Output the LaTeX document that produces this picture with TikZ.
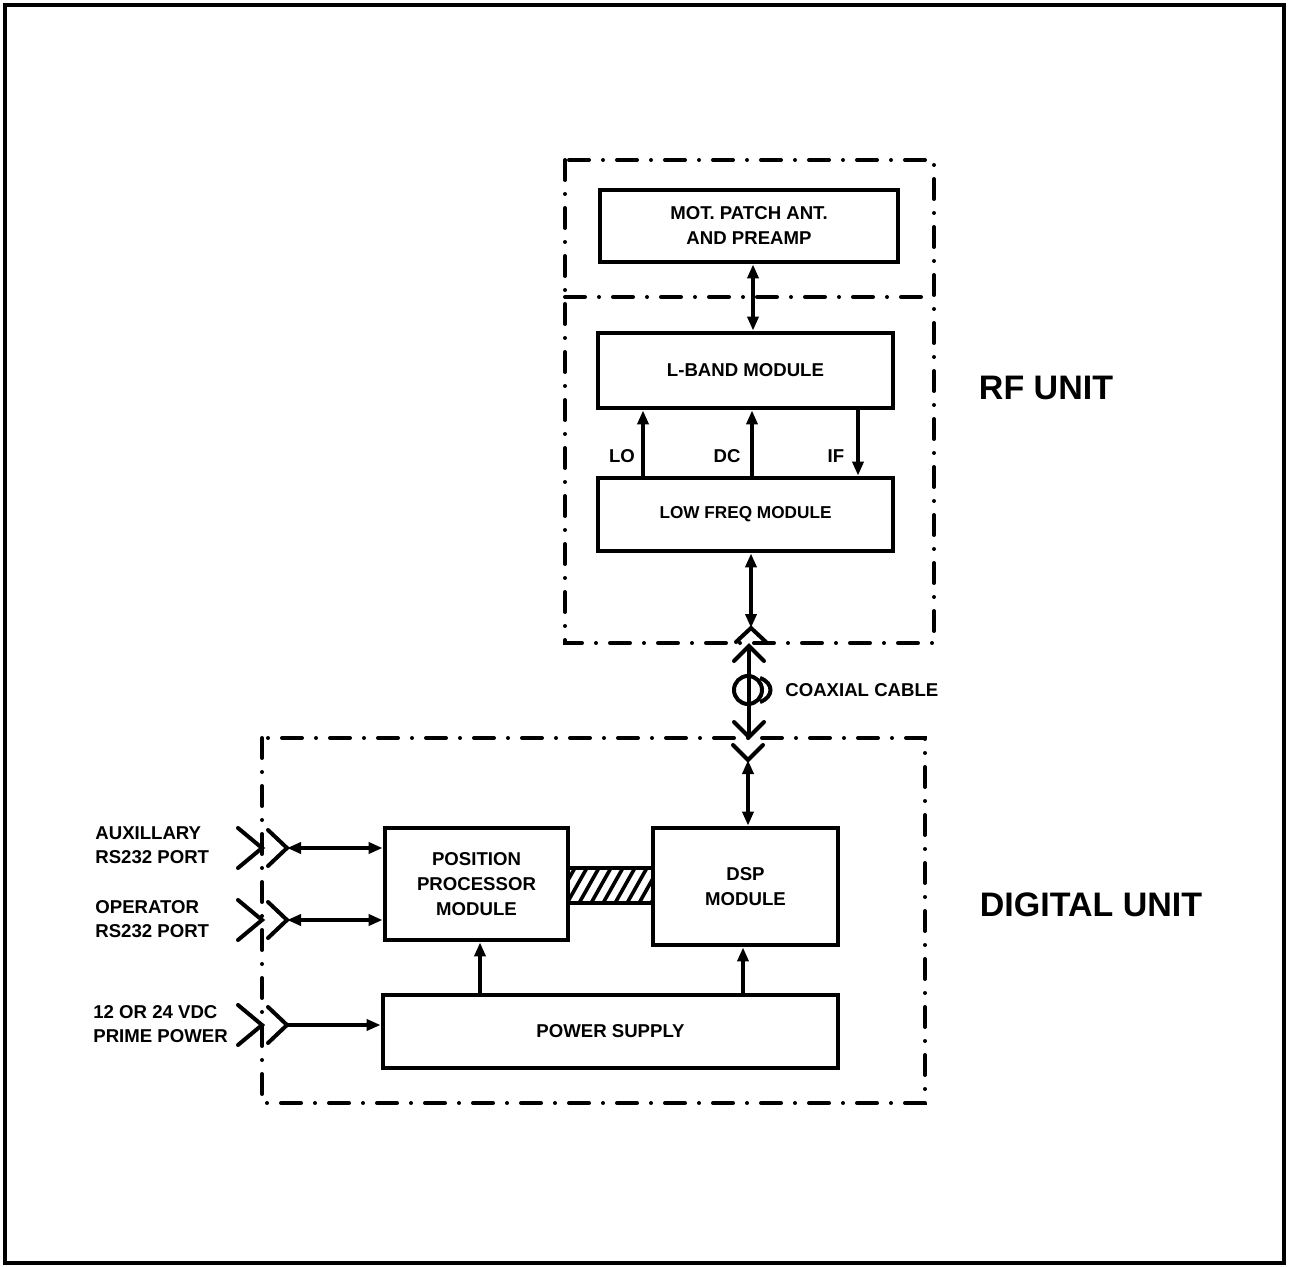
\documentclass[tikz,border=0pt]{standalone}
\usepackage{fontspec}
\setmainfont{Liberation Sans}
\usetikzlibrary{arrows.meta}
\tikzset{
  blk/.style={draw,line width=2.4pt,align=center,inner sep=2pt,
    font=\fontsize{9.3}{12.5}\selectfont\bfseries},
  lbl/.style={inner sep=1pt,align=left,font=\fontsize{9.3}{12}\selectfont\bfseries},
  big/.style={inner sep=1pt,font=\fontsize{17}{20}\selectfont\bfseries},
  ln/.style={line width=2pt,>={Triangle[length=7pt,width=5.5pt]}},
  chev/.style={line width=2pt,line cap=round,line join=miter},
  dd/.style={line width=2pt,line cap=round,dash pattern=on 10pt off 7pt on 0pt off 7pt}
}
\begin{document}
\begin{tikzpicture}[x=0.5pt,y=-0.5pt]
\useasboundingbox (0,0) rectangle (1307,1267);
\fill[white] (0,0) rectangle (1307,1267);
\draw[line width=2.2pt] (5,5) rectangle (1284,1263);

% dash-dot unit outlines
\draw[dd] (565,160) rectangle (934,643);
\draw[dd] (565,297) -- (934,297);
\draw[dd] (262,738) rectangle (925,1103);

% blocks
\node[blk,minimum width=149pt,minimum height=36pt] (mot) at (749,226) {MOT. PATCH ANT.\\AND PREAMP};
\node[blk,minimum width=147.5pt,minimum height=37.5pt] (lband) at (745.5,370.5) {L-BAND MODULE};
\node[blk,minimum width=147.5pt,minimum height=36.5pt,font=\fontsize{8.6}{12}\selectfont\bfseries] (lowf) at (745.5,514.5) {LOW FREQ MODULE};
\node[blk,minimum width=91.5pt,minimum height=56pt] (pos) at (476.5,884) {POSITION\\PROCESSOR\\MODULE};
\node[blk,minimum width=92.5pt,minimum height=58.5pt] (dsp) at (745.5,886.5) {DSP\\MODULE};
\node[blk,minimum width=227.5pt,minimum height=36.5pt] (psu) at (610.5,1031.5) {POWER SUPPLY};

% unit labels
\node[big] (rfu) at (1046,388) {RF UNIT};
\node[big] (dgu) at (1091,905) {DIGITAL UNIT};

% RF internal links
\coordinate (xa) at (753,0);
\coordinate (xlo) at (643,0);
\coordinate (xdc) at (752,0);
\coordinate (xif) at (858,0);
\draw[ln,<->] (mot.south -| xa) -- (lband.north -| xa);
\draw[ln,->] (lowf.north -| xlo) -- (lband.south -| xlo);
\draw[ln,->] (lowf.north -| xdc) -- (lband.south -| xdc);
\draw[ln,->] (lband.south -| xif) -- (lowf.north -| xif);
\node[lbl] (llo) at (622,456) {LO};
\node[lbl] (ldc) at (727,456) {DC};
\node[lbl] (lif) at (836,456) {IF};

% RF connector
\coordinate (rfc) at (751,628);
\draw[ln,<->] (lowf.south -| rfc) -- (rfc);
\draw[chev] (rfc) ++(-15,14) -- (rfc) -- ++(15,14);

% coaxial cable
\coordinate (cbt) at (749,646);
\coordinate (cbb) at (749,737);
\draw[ln] (cbt) -- (cbb);
\draw[chev] (cbt) ++(-15,15) -- (cbt) -- ++(15,15);
\draw[chev] (cbb) ++(-15,-15) -- (cbb) -- ++(15,-15);
\node[circle,draw,line width=2pt,minimum size=14pt,inner sep=0pt] (coax) at (748,690) {};
\draw[line width=2pt] (760,678) .. controls (774,683) and (774,697) .. (760,702);
\node[lbl,anchor=west] (coaxt) at (783,690) {COAXIAL CABLE};

% DSP connector
\coordinate (dc) at (748,760);
\draw[chev] (dc) ++(-15,-15) -- (dc) -- ++(15,-15);
\draw[ln,<->] (dc) -- (dsp.north -| dc);

% hatched bus between processors
\begin{scope}
\clip (568,868) rectangle (653,903);
\foreach \i in {530,542,...,670} \draw[line width=1.8pt] (\i,905) -- ({\i+22},866);
\end{scope}
\draw[line width=2pt] (568,868) -- (653,868) (568,903) -- (653,903);

% power feeds
\coordinate (xp1) at (480,0);
\coordinate (xp2) at (743,0);
\draw[ln,->] (psu.north -| xp1) -- (pos.south -| xp1);
\draw[ln,->] (psu.north -| xp2) -- (dsp.south -| xp2);

% external ports
\foreach \y in {848,920,1025} {
  \draw[chev] (238,\y-20) -- (262,\y) -- (238,\y+20);
  \draw[chev] (268,\y-18) -- (287,\y) -- (268,\y+18);
}
\coordinate (pa) at (287,848);
\coordinate (po) at (287,920);
\coordinate (pp) at (287,1025);
\draw[ln,<->] (pa) -- (pa -| pos.west);
\draw[ln,<->] (po) -- (po -| pos.west);
\draw[ln,->] (pp) -- (pp -| psu.west);
\node[lbl,anchor=west] (laux) at (93,845) {AUXILLARY\\RS232 PORT};
\node[lbl,anchor=west] (lop) at (93,919) {OPERATOR\\RS232 PORT};
\node[lbl,anchor=west] (lpw) at (91,1024) {12 OR 24 VDC\\PRIME POWER};
\end{tikzpicture}
\end{document}
